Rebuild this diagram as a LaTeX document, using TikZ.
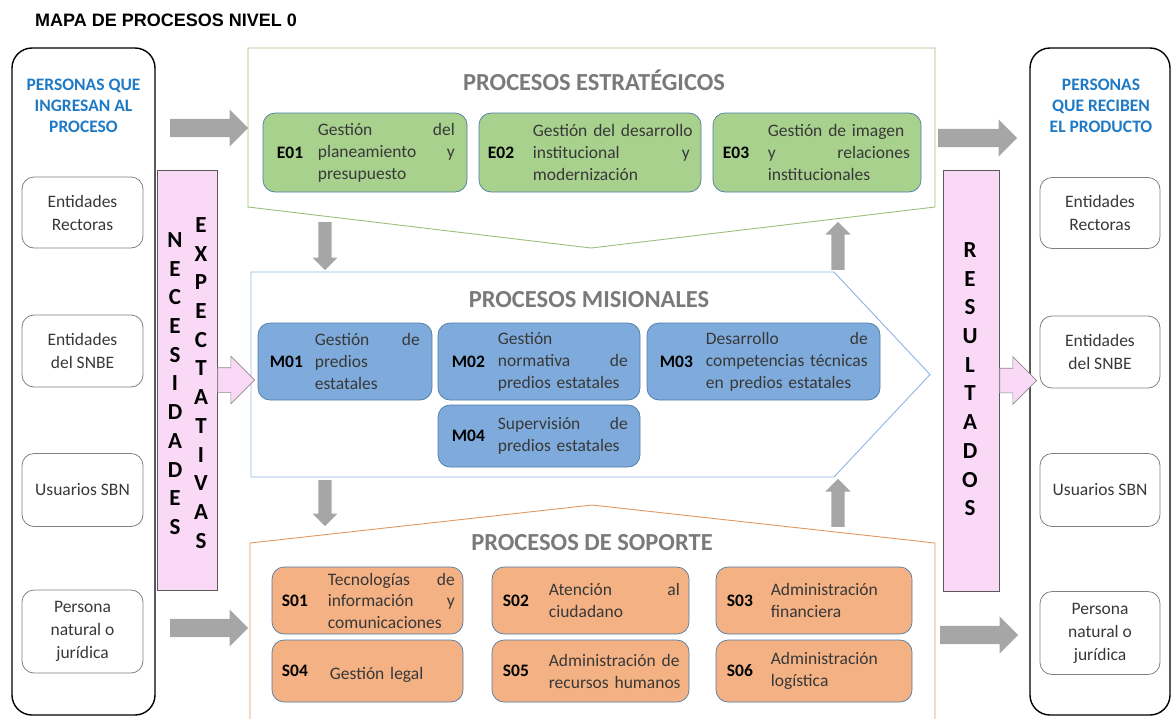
\documentclass[tikz,border=0pt]{standalone}
\usepackage{fontspec}
\setmainfont{Carlito}
\newfontfamily\arialfont{Liberation Sans}
\usetikzlibrary{positioning,shapes.arrows}

\definecolor{estline}{HTML}{9BBF7A}
\definecolor{misline}{HTML}{8DB4E2}
\definecolor{supline}{HTML}{E2975E}
\definecolor{efill}{HTML}{A9D18E}
\definecolor{mfill}{HTML}{7FABDC}
\definecolor{sfill}{HTML}{F4B183}
\definecolor{procline}{HTML}{4E7BA6}
\definecolor{arrowgray}{HTML}{A6A6A6}
\definecolor{pinkfill}{HTML}{FAD9F7}
\definecolor{pinkline}{HTML}{5A5A5A}
\definecolor{headblue}{HTML}{1F7AC5}
\definecolor{textgray}{HTML}{383838}
\definecolor{titlegray}{HTML}{7A7A7A}
\definecolor{actorline}{HTML}{808080}

\begin{document}
\begin{tikzpicture}[x=1pt,y=-1pt,
  outerbox/.style={draw=black,line width=1.4pt,rounded corners=20pt,minimum width=143pt,minimum height=667pt},
  headtxt/.style={text=headblue,align=center,font=\bfseries\fontsize{17.5}{21}\selectfont},
  actor/.style={draw=actorline,line width=0.8pt,rounded corners=12pt,minimum width=121pt,align=center,text=textgray,font=\fontsize{17.5}{23}\selectfont},
  pinkbar/.style={draw=pinkline,fill=pinkfill,line width=0.8pt},
  pletter/.style={font=\bfseries\fontsize{23}{23}\selectfont,inner sep=0pt},
  pinkarrow/.style={single arrow,draw=pinkline!70,fill=pinkfill,line width=0.6pt,minimum width=47pt,single arrow head extend=11.5pt,inner sep=12pt,minimum height=31pt},
  grayarrow/.style={single arrow,draw=none,fill=arrowgray,minimum width=37pt,single arrow head extend=9.5pt,inner sep=9pt,minimum height=78pt},
  vgray/.style={single arrow,draw=none,fill=arrowgray,minimum width=25pt,single arrow head extend=6pt,inner sep=6.5pt,minimum height=48pt},
  areatitle/.style={text=titlegray,font=\bfseries\fontsize{24.5}{24.5}\selectfont},
  procbox/.style={draw=procline,line width=0.7pt,rounded corners=12pt},
  ebox/.style={procbox,fill=efill},
  mbox/.style={procbox,fill=mfill},
  sbox/.style={procbox,fill=sfill},
  pcode/.style={inner sep=0pt,font=\bfseries\fontsize{17.5}{17.5}\selectfont},
  pdesc/.style={inner sep=0pt,text=textgray,font=\fontsize{17.5}{22}\selectfont}]
\useasboundingbox (0,0) rectangle (1174,718);
\node[font=\arialfont\bfseries\fontsize{18}{18}\selectfont,anchor=west,inner sep=0pt] (title) at (35,20) {MAPA DE PROCESOS NIVEL 0};

% areas
\draw[estline,line width=0.9pt] (248,48) -- (935,48) -- (935,207) -- (591,248) -- (248,207) -- cycle;
\draw[misline,line width=0.9pt] (251,272) -- (834,272) -- (930,374.5) -- (834,477) -- (251,477) -- cycle;
\draw[supline,line width=0.9pt] (250,720) -- (250,543) -- (592,505) -- (935,543) -- (935,720);
\node[areatitle] (estT) at (594,80) {PROCESOS ESTRATÉGICOS};
\node[areatitle] (misT) at (589,300) {PROCESOS MISIONALES};
\node[areatitle] (supT) at (592,543) {PROCESOS DE SOPORTE};

% estrategicos
\node[ebox,minimum width=204pt,minimum height=79pt] (e01) at (365,152.5) {};
\node[pcode,right=14pt of e01.west] (e01c) {E01};
\node[pdesc,text width=137pt,right=55pt of e01.west] (e01t) {Gestión\hfill del\\planeamiento\hfill y\\presupuesto};
\node[ebox,minimum width=222pt,minimum height=79pt] (e02) at (590,152.5) {};
\node[pcode,right=9pt of e02.west] (e02c) {E02};
\node[pdesc,text width=157pt,right=54pt of e02.west] (e02t) {\mbox{Gestión del desarrollo}\\institucional\hfill y\\modernización};
\node[ebox,minimum width=208pt,minimum height=79pt] (e03) at (817,152.5) {};
\node[pcode,right=10pt of e03.west] (e03c) {E03};
\node[pdesc,text width=142pt,right=55pt of e03.west] (e03t) {\mbox{Gestión de imagen}\\y\hfill relaciones\\institucionales};

% misionales
\node[mbox,minimum width=174pt,minimum height=77pt] (m01) at (345,361.5) {};
\node[pcode,right=12pt of m01.west] (m01c) {M01};
\node[pdesc,text width=105pt,right=57pt of m01.west] (m01t) {Gestión\hfill de\\predios\\estatales};
\node[mbox,minimum width=202pt,minimum height=77pt] (m02) at (539,361.5) {};
\node[pcode,right=14pt of m02.west] (m02c) {M02};
\node[pdesc,text width=130pt,right=60pt of m02.west] (m02t) {Gestión\\normativa\hfill de\\\mbox{predios estatales}};
\node[mbox,minimum width=233pt,minimum height=77pt] (m03) at (763.5,361.5) {};
\node[pcode,right=13pt of m03.west] (m03c) {M03};
\node[pdesc,text width=162pt,right=59pt of m03.west] (m03t) {Desarrollo\hfill de\\\mbox{competencias técnicas}\\\mbox{en predios estatales}};
\node[mbox,minimum width=202pt,minimum height=62pt] (m04) at (539,436) {};
\node[pcode,right=14pt of m04.west] (m04c) {M04};
\node[pdesc,text width=130pt,right=60pt of m04.west] (m04t) {Supervisión\hfill de\\\mbox{predios estatales}};

% soporte
\node[sbox,minimum width=191pt,minimum height=67pt] (s01) at (367.5,600.5) {};
\node[pcode,right=10pt of s01.west] (s01c) {S01};
\node[pdesc,text width=127pt,right=56pt of s01.west,font=\fontsize{17.5}{21.5}\selectfont] (s01t) {Tecnologías\hfill de\\información\hfill y\\comunicaciones};
\node[sbox,minimum width=197pt,minimum height=67pt] (s02) at (590.5,600.5) {};
\node[pcode,right=11pt of s02.west] (s02c) {S02};
\node[pdesc,text width=131pt,right=57pt of s02.west] (s02t) {Atención\hfill al\\ciudadano};
\node[sbox,minimum width=196pt,minimum height=67pt] (s03) at (814,600.5) {};
\node[pcode,right=11pt of s03.west] (s03c) {S03};
\node[pdesc,text width=131pt,right=55pt of s03.west] (s03t) {Administración\\financiera};
\node[sbox,minimum width=191pt,minimum height=62pt] (s04) at (367.5,671) {};
\node[pcode,right=10pt of s04.west] (s04c) {S04};
\node[pdesc,text width=127pt,right=58pt of s04.west,yshift=-4pt] (s04t) {\mbox{Gestión legal}};
\node[sbox,minimum width=197pt,minimum height=62pt] (s05) at (590.5,671) {};
\node[pcode,right=11pt of s05.west] (s05c) {S05};
\node[pdesc,text width=131pt,right=57pt of s05.west] (s05t) {\mbox{Administración de}\\\mbox{recursos humanos}};
\node[sbox,minimum width=196pt,minimum height=62pt] (s06) at (814,671) {};
\node[pcode,right=11pt of s06.west] (s06c) {S06};
\node[pdesc,text width=131pt,right=55pt of s06.west] (s06t) {Administración\\logística};

% personas que ingresan
\node[outerbox] (inL) at (83.5,381.5) {};
\node[headtxt] (inLh) at (83.5,106) {PERSONAS QUE\\INGRESAN AL\\PROCESO};
\node[actor,minimum height=71pt] (inL1) at (82.5,212.5) {Entidades\\Rectoras};
\node[actor,minimum height=72pt] (inL2) at (82.5,351) {Entidades\\del SNBE};
\node[actor,minimum height=73pt] (inL3) at (82.5,490) {Usuarios SBN};
\node[actor,minimum height=83pt] (inL4) at (82.5,631.5) {Persona\\natural o\\jurídica};

% personas que reciben
\node[outerbox,minimum width=140pt] (outR) at (1100,381.5) {};
\node[headtxt] (outRh) at (1101,106) {PERSONAS\\QUE RECIBEN\\EL PRODUCTO};
\node[actor,minimum width=120pt,minimum height=71pt] (outR1) at (1100,213) {Entidades\\Rectoras};
\node[actor,minimum width=120pt,minimum height=72pt] (outR2) at (1100,352) {Entidades\\del SNBE};
\node[actor,minimum width=120pt,minimum height=73pt] (outR3) at (1100,490) {Usuarios SBN};
\node[actor,minimum width=120pt,minimum height=83pt] (outR4) at (1100,633) {Persona\\natural o\\jurídica};

% necesidades / resultados
\node[pinkbar,minimum width=60pt,minimum height=420pt] (nec) at (187,380) {};
\node[pinkbar,minimum width=56pt,minimum height=421pt] (res) at (971,380.5) {};
\foreach \l [count=\i from 0] in {N,E,C,E,S,I,D,A,D,E,S}
  \node[pletter] (nec\i) at (175,{240+28.7*\i}) {\l};
\foreach \l [count=\i from 0] in {E,X,P,E,C,T,A,T,I,V,A,S}
  \node[pletter] (exp\i) at (201,{225+28.7*\i}) {\l};
\foreach \l [count=\i from 0] in {R,E,S,U,L,T,A,D,O,S}
  \node[pletter] (res\i) at (970,{250+28.7*\i}) {\l};
\node[pinkarrow,anchor=tail] (necA) at (nec.east) {};
\node[pinkarrow,anchor=tail,minimum height=29pt] (resA) at (res.east) {};

% flechas
\node[grayarrow,anchor=tail] (inA1) at (170,128) {};
\node[grayarrow,anchor=tail] (inA2) at (170,628) {};
\node[grayarrow,anchor=tail,minimum height=79pt] (outA1) at (938,138) {};
\node[grayarrow,anchor=tail] (outA2) at (940,635) {};
\node[vgray,shape border rotate=270,anchor=tail] (estD) at (325,222) {};
\node[vgray,shape border rotate=270,anchor=tail,minimum height=46pt] (misD) at (325,480) {};
\node[vgray,shape border rotate=90,anchor=tail] (misU) at (838,270) {};
\node[vgray,shape border rotate=90,anchor=tail] (supU) at (838,527) {};
\end{tikzpicture}
\end{document}
